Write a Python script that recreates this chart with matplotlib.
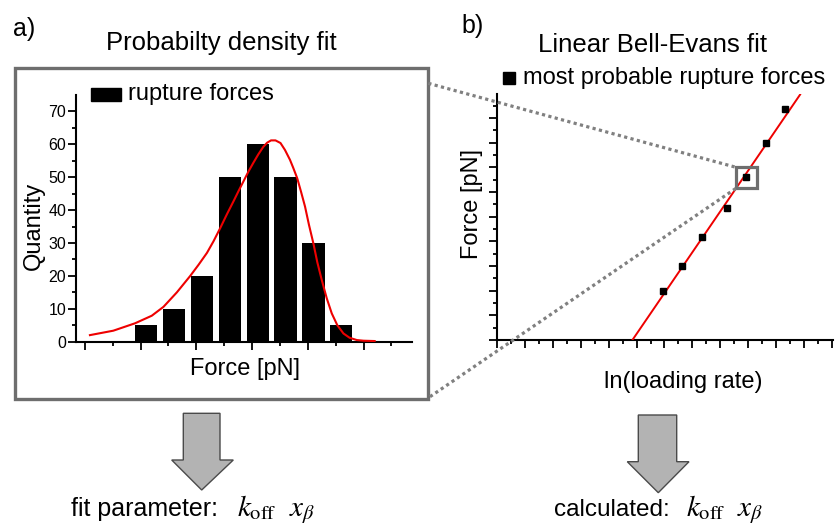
import matplotlib
matplotlib.use("Agg")
import matplotlib.pyplot as plt
from matplotlib.patches import Rectangle, Polygon
from matplotlib.lines import Line2D
from matplotlib.ticker import FixedLocator

# ---------------- data ----------------
# panel a: histogram of rupture forces
bar_centers = [11, 16, 21, 26, 31, 36, 41, 46]
bar_counts = [5, 10, 20, 50, 60, 50, 30, 5]
# fitted probability density
pdf_x = [0.9, 5.1, 9.0, 12.0, 14.1, 16.5, 18.9, 20.4, 21.9, 23.1, 24.3, 25.5, 26.7,
         27.6, 28.5, 29.4, 30.2, 31.1, 32.0, 32.7, 33.4, 34.2, 35.1, 35.9, 36.8,
         37.4, 38.1, 38.8, 39.5, 40.2, 41.0, 41.7, 42.5, 43.4, 44.3, 45.3, 46.4,
         47.5, 48.8, 50.0, 52.0]
pdf_y = [2.0, 3.35, 5.6, 7.9, 10.6, 15.0, 20.0, 23.4, 27.0, 30.6, 34.6, 38.8, 42.8,
         45.9, 48.9, 51.9, 54.3, 56.9, 59.2, 60.5, 61.2, 61.2, 60.4, 58.3, 55.3,
         52.8, 49.7, 45.5, 41.1, 35.6, 29.9, 24.2, 18.8, 13.2, 8.6, 5.0, 2.5,
         1.2, 0.5, 0.3, 0.2]
a_yticks = [0, 10, 20, 30, 40, 50, 60, 70]
a_yticklabels = ["0", "10", "20", "30", "40", "50", "60", "70"]

# panel b: most probable rupture forces vs ln(loading rate)
mp_x = [5.93, 6.64, 7.33, 8.25, 8.92, 9.64, 10.33]
mp_y = [1.99, 2.99, 4.19, 5.36, 6.60, 7.99, 9.36]
fit_x = [4.85, 10.87]
fit_y = [0.0, 9.95]

# ---------------- style ----------------
plt.rcParams['font.family'] = ['Liberation Sans', 'DejaVu Sans']
plt.rcParams['mathtext.fontset'] = 'stix'

W, H = 835, 526
fig = plt.figure(figsize=(W / 100, H / 100), dpi=100)


def fx(px):
    return px / W


def fy(py):
    return 1 - py / H


def style_axes(ax):
    for s in ['top', 'right']:
        ax.spines[s].set_visible(False)
    for s in ['left', 'bottom']:
        ax.spines[s].set_linewidth(1.5)
        ax.spines[s].set_color('black')
    ax.tick_params(which='major', direction='out', length=5.5, width=1.3, color='black')
    ax.tick_params(which='minor', direction='out', length=3, width=1.3, color='black')


# ---------------- panel a ----------------
axA = fig.add_axes([fx(76), fy(341.7), fx(412) - fx(76), fy(95) - fy(341.7)])
style_axes(axA)
axA.bar(bar_centers, bar_counts, width=4.0, color='black', edgecolor='none', zorder=2)
axA.plot(pdf_x, pdf_y, color='#ee0000', lw=1.5, zorder=3, solid_joinstyle='round')
axA.set_xlim(-1.6, 58.7)
axA.set_ylim(0, 75)
axA.xaxis.set_major_locator(FixedLocator([0, 10, 20, 30, 40, 50]))
axA.xaxis.set_minor_locator(FixedLocator([5, 15, 25, 35, 45, 55]))
axA.set_xticklabels([])
axA.yaxis.set_major_locator(FixedLocator(a_yticks))
axA.yaxis.set_minor_locator(FixedLocator([5, 15, 25, 35, 45, 55, 65]))
axA.set_yticklabels(a_yticklabels, fontsize=11.5)
axA.tick_params(axis='y', pad=1.5)

# ---------------- panel b ----------------
axB = fig.add_axes([fx(497.3), fy(340), fx(833) - fx(497.3), fy(94.3) - fy(340)])
style_axes(axB)
axB.plot(fit_x, fit_y, color='#ee0000', lw=1.4, zorder=3)
axB.plot(mp_x, mp_y, ls='none', marker='s', ms=4.2, color='black', zorder=4)
axB.set_xlim(0, 12.05)
axB.set_ylim(0, 9.96)
axB.xaxis.set_major_locator(FixedLocator(list(range(0, 13))))
axB.xaxis.set_minor_locator(FixedLocator([i + 0.5 for i in range(0, 12)]))
axB.yaxis.set_major_locator(FixedLocator(list(range(0, 10))))
axB.yaxis.set_minor_locator(FixedLocator([i + 0.5 for i in range(0, 10)]))
axB.set_xticklabels([])
axB.set_yticklabels([])
# zoom box around one point
axB.add_patch(Rectangle((8.56, 6.15), 0.77, 0.85, fill=False, edgecolor='#6e6e6e',
                        lw=2.3, zorder=5, clip_on=False))

# ---------------- figure-level decorations ----------------
# frame around panel a
fig.add_artist(Rectangle((fx(15), fy(399)), fx(428) - fx(15), fy(68) - fy(399),
                         transform=fig.transFigure, fill=False, edgecolor='#6e6e6e', lw=2.4))
# dotted connector lines
for (x0, y0, x1, y1) in [(428.3, 83.3, 736, 167.3), (430, 396.7, 736, 188.3)]:
    fig.add_artist(Line2D([fx(x0), fx(x1)], [fy(y0), fy(y1)], transform=fig.transFigure,
                          color='#808080', lw=2.3, dashes=(1, 1.05), zorder=10))

# legends (manual)
fig.add_artist(Rectangle((fx(91), fy(101)), fx(120.7) - fx(91), fy(87.7) - fy(101),
                         transform=fig.transFigure, color='black'))
fig.text(fx(128), fy(94), 'rupture forces', fontsize=17, va='center', ha='left')
fig.add_artist(Rectangle((fx(503), fy(84)), fx(515) - fx(503), fy(72) - fy(84),
                         transform=fig.transFigure, color='black'))
fig.text(fx(523), fy(78), 'most probable rupture forces', fontsize=17, va='center', ha='left')

# titles & panel letters
fig.text(fx(13), fy(36), 'a)', fontsize=18, ha='left', va='baseline')
fig.text(fx(461.7), fy(33), 'b)', fontsize=18, ha='left', va='baseline')
fig.text(fx(221.5), fy(50), 'Probabilty density fit', fontsize=18.5, ha='center', va='baseline')
fig.text(fx(652.5), fy(52), 'Linear Bell-Evans fit', fontsize=18.5, ha='center', va='baseline')

# axis labels
fig.text(fx(34), fy(225.5), 'Quantity', fontsize=17, rotation=90, ha='center', va='center')
fig.text(fx(245), fy(369), 'Force [pN]', fontsize=17, ha='center', va='center')
fig.text(fx(472), fy(204), 'Force [pN]', fontsize=17, rotation=90, ha='center', va='center')
fig.text(fx(683.7), fy(382), 'ln(loading rate)', fontsize=17, ha='center', va='center')

# block arrows
for (sl, sr, top, hy, hl, hr, tx, ty) in [(183.3, 220, 413.3, 460, 171.7, 233.3, 201.7, 490),
                                          (638.3, 676.7, 415, 461.7, 627.3, 689, 658.3, 492.7)]:
    verts = [(sl, top), (sr, top), (sr, hy), (hr, hy), (tx, ty), (hl, hy), (sl, hy)]
    fig.add_artist(Polygon([(fx(x), fy(y)) for x, y in verts], closed=True,
                           transform=fig.transFigure, facecolor='#b3b3b3',
                           edgecolor='#4a4a4a', lw=1.0))

# bottom texts
base = 516
fig.text(fx(218), fy(base), 'fit parameter:', fontsize=18, ha='right', va='baseline')
fig.text(fx(237), fy(base), r'$k_{\mathrm{off}}$', fontsize=21, ha='left', va='baseline')
fig.text(fx(289), fy(base), r'$x_{\beta}$', fontsize=21, ha='left', va='baseline')
fig.text(fx(670), fy(base), 'calculated:', fontsize=17.5, ha='right', va='baseline')
fig.text(fx(686), fy(base), r'$k_{\mathrm{off}}$', fontsize=21, ha='left', va='baseline')
fig.text(fx(737), fy(base), r'$x_{\beta}$', fontsize=21, ha='left', va='baseline')

fig.savefig('out.png', dpi=100)
